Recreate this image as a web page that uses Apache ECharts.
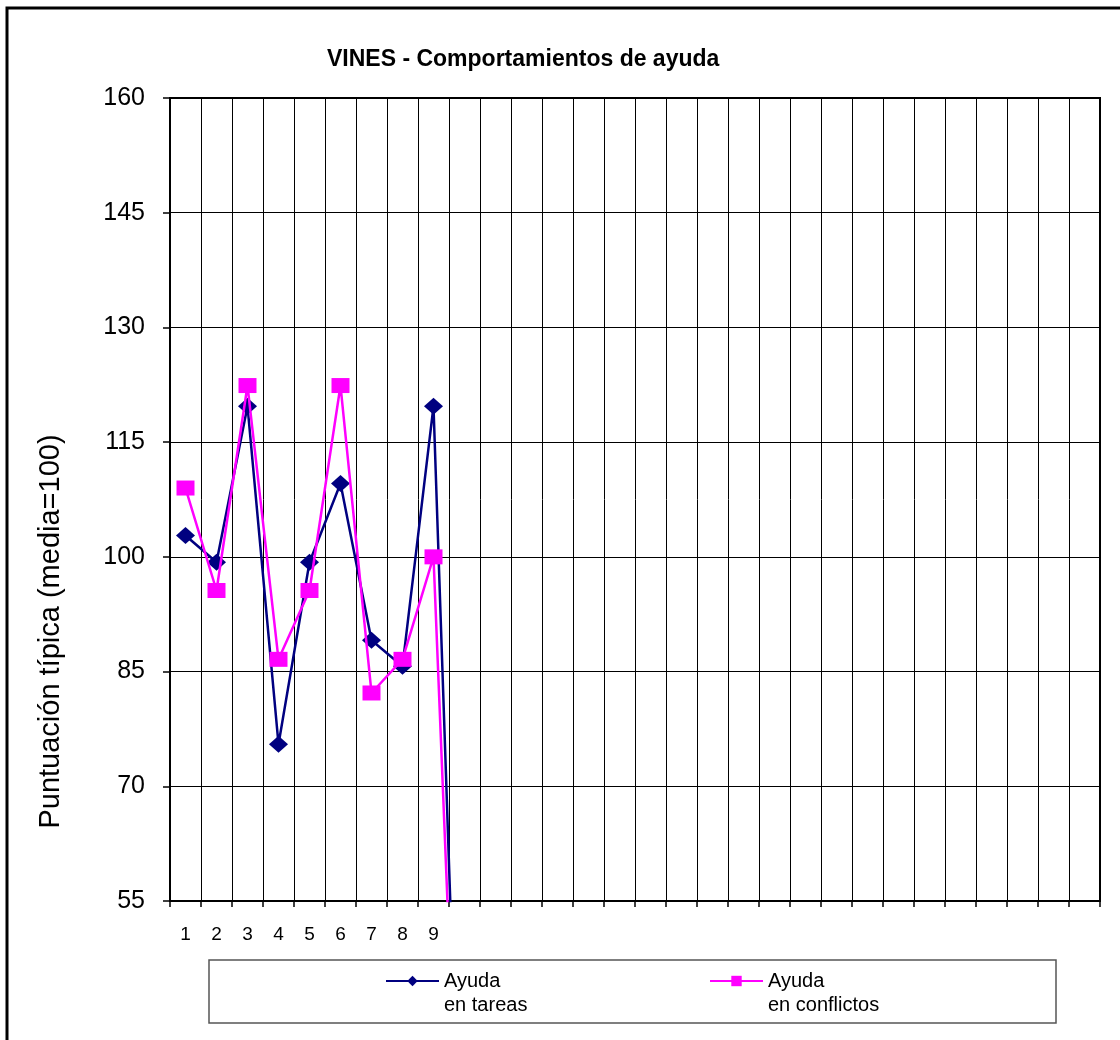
<!DOCTYPE html>
<html>
<head>
<meta charset="utf-8">
<title>VINES - Comportamientos de ayuda</title>
<script src="https://cdn.jsdelivr.net/npm/echarts@6/dist/echarts.min.js"></script>
<style>
  html, body { margin: 0; padding: 0; background: #fff; }
  #chart { width: 1120px; height: 1040px; }
</style>
</head>
<body>
<div id="chart"></div>
<script>
// categorias del eje X (solo se rotulan 1-9)
const categories = ["1", "2", "3", "4", "5", "6", "7", "8", "9",
  "", "", "", "", "", "", "", "", "", "", "", "", "", "", "", "", "", "", "", "", ""];
const ayudaTareas = [102.8, 99.3, 119.7, 75.5, 99.3, 109.6, 89.1, 85.7, 119.7, 0];
const ayudaConflictos = [109.0, 95.6, 122.4, 86.6, 95.6, 122.4, 82.2, 86.6, 100.0, 0];
const seriesNames = ["Ayuda\nen tareas", "Ayuda\nen conflictos"];
const yTicks = { min: 55, max: 160, step: 15 };

const font = "Arial, 'Liberation Sans', sans-serif";
const chart = echarts.init(document.getElementById("chart"));

const legendText = {
  color: "#000",
  fontFamily: font,
  fontSize: 20,
  lineHeight: 24,
};

// linea en blanco delante: asi "Ayuda" queda a la altura del icono
const legendFormatter = (name) => "\n" + name;

chart.setOption({
  animation: false,
  backgroundColor: "#fff",
  title: {
    text: "VINES - Comportamientos de ayuda",
    left: 322,
    top: 43,
    textStyle: {
      color: "#000",
      fontFamily: font,
      fontWeight: "bold",
      fontSize: 23,
    },
  },
  // caja exterior y caja de la leyenda
  graphic: [
    {
      type: "rect",
      shape: { x: 7, y: 8, width: 1300, height: 1300 },
      style: { fill: "none", stroke: "#000", lineWidth: 3 },
      silent: true,
    },
    {
      type: "rect",
      shape: { x: 209, y: 960, width: 847, height: 63 },
      style: { fill: "#fff", stroke: "#555", lineWidth: 1.5 },
      silent: true,
      z: -1,
    },
  ],
  legend: [
    {
      data: [seriesNames[0]],
      left: 385,
      top: 945,
      padding: 0,
      itemWidth: 53,
      itemHeight: 13,
      itemGap: 5,
      formatter: legendFormatter,
      textStyle: legendText,
    },
    {
      data: [seriesNames[1]],
      left: 709,
      top: 945,
      padding: 0,
      itemWidth: 53,
      itemHeight: 13,
      itemGap: 5,
      formatter: legendFormatter,
      textStyle: legendText,
    },
  ],
  grid: {
    left: 170,
    right: 20,
    top: 98,
    bottom: 139,
    show: true,
    borderColor: "#000",
    borderWidth: 2,
    containLabel: false,
  },
  xAxis: {
    type: "category",
    data: categories,
    boundaryGap: true,
    axisLine: { lineStyle: { color: "#000", width: 2 } },
    axisTick: { show: true, interval: 0, length: 6, lineStyle: { color: "#000", width: 1.5 } },
    axisLabel: {
      interval: 0,
      margin: 24,
      color: "#000",
      fontFamily: font,
      fontSize: 19,
    },
    splitLine: { show: true, interval: 0, lineStyle: { color: "#000", width: 1 } },
  },
  yAxis: {
    type: "value",
    min: yTicks.min,
    max: yTicks.max,
    interval: yTicks.step,
    name: "Puntuación típica (media=100)",
    nameLocation: "middle",
    nameGap: 105,
    nameTextStyle: {
      color: "#000",
      fontFamily: font,
      fontSize: 29,
      padding: [0, 264, 0, 0],
    },
    axisLine: { show: true, lineStyle: { color: "#000", width: 2 } },
    axisTick: { show: true, length: 7, lineStyle: { color: "#000", width: 1.5 } },
    axisLabel: {
      margin: 25,
      color: "#000",
      fontFamily: font,
      fontSize: 25,
    },
    splitLine: { show: true, lineStyle: { color: "#000", width: 1 } },
  },
  series: [
    {
      name: seriesNames[0],
      type: "line",
      data: ayudaTareas,
      clip: true,
      symbol: "diamond",
      symbolSize: [19, 17],
      color: "#000080",
      lineStyle: { color: "#000080", width: 2.5 },
      itemStyle: { color: "#000080" },
      z: 3,
    },
    {
      name: seriesNames[1],
      type: "line",
      data: ayudaConflictos,
      clip: true,
      symbol: "rect",
      symbolSize: [18, 15],
      color: "#ff00ff",
      lineStyle: { color: "#ff00ff", width: 2.5 },
      itemStyle: { color: "#ff00ff" },
      z: 4,
    },
  ],
});

window.addEventListener("resize", () => {
  chart.resize();
});
</script>
</body>
</html>
